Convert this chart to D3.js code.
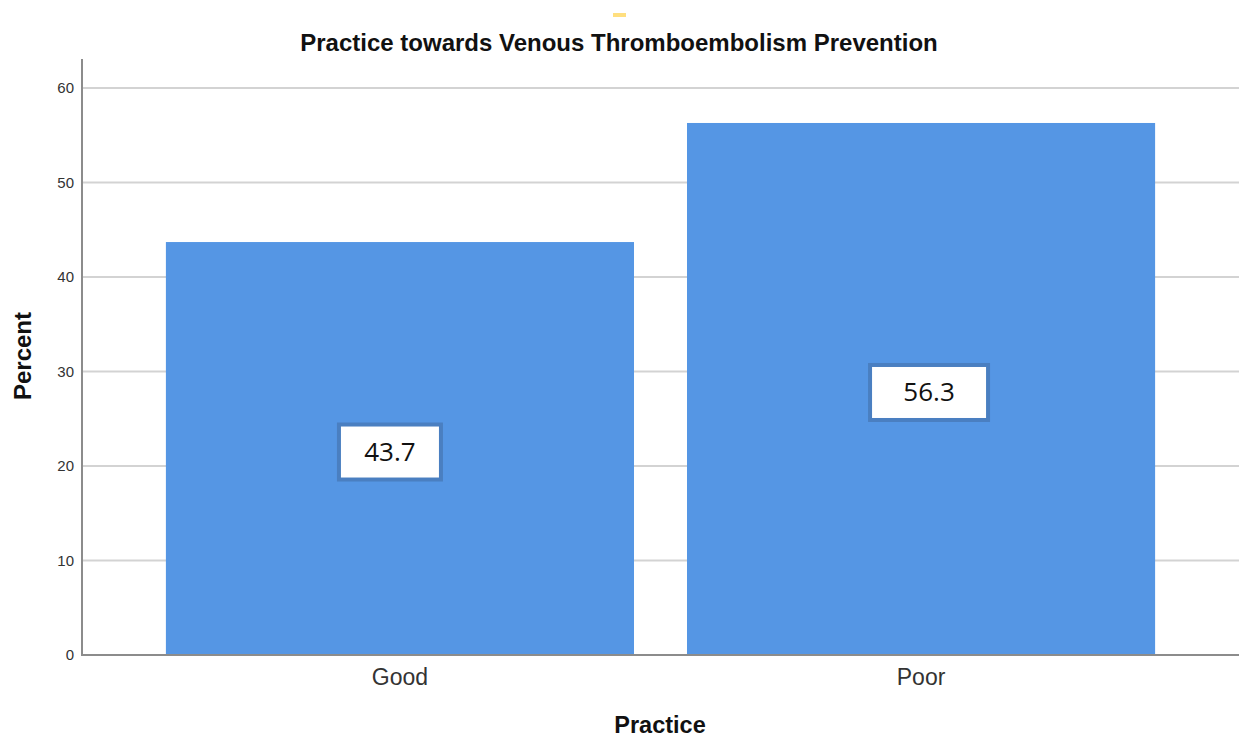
<!DOCTYPE html>
<html>
<head>
<meta charset="utf-8">
<script src="https://cdn.jsdelivr.net/npm/d3@7"></script>
<style>
  html, body { margin: 0; padding: 0; background: #fff; }
  svg { display: block; }
</style>
</head>
<body>
<svg id="chart" width="1239" height="739"></svg>
<script>
// Data
const categories = ["Good", "Poor"];
const percentValues = [43.7, 56.3];
const yTicks = [0, 10, 20, 30, 40, 50, 60];
const chartTitle = "Practice towards Venous Thromboembolism Prevention";
const xTitle = "Practice";
const yTitle = "Percent";

const width = 1239, height = 739;
const margin = { top: 59, right: 0, bottom: 84, left: 82 };

const svg = d3.select("#chart");

const x = d3.scaleBand()
  .domain(categories)
  .range([margin.left, width - margin.right])
  .paddingInner(0.1017)
  .paddingOuter(0.161);

const y = d3.scaleLinear()
  .domain([0, 63.07])
  .range([height - margin.bottom, margin.top]);

// small accent mark above the title
svg.append("rect")
  .attr("x", 613).attr("y", 13).attr("width", 13).attr("height", 4)
  .attr("fill", "#ffdf7f");

// gridlines
svg.append("g")
  .selectAll("line")
  .data(yTicks.filter(d => d > 0))
  .join("line")
  .attr("x1", margin.left).attr("x2", width)
  .attr("y1", d => y(d)).attr("y2", d => y(d))
  .attr("stroke", "#d3d3d3").attr("stroke-width", 2);

// bars
svg.append("g")
  .selectAll("rect")
  .data(categories)
  .join("rect")
  .attr("x", d => x(d))
  .attr("width", x.bandwidth())
  .attr("y", (d, i) => y(percentValues[i]))
  .attr("height", (d, i) => y(0) - y(percentValues[i]))
  .attr("fill", "#5596e4");

// y axis
const yAxis = svg.append("g")
  .attr("transform", `translate(${margin.left},0)`)
  .call(d3.axisLeft(y).tickValues(yTicks).tickSize(0).tickPadding(8));
yAxis.select(".domain").remove();
yAxis.selectAll("text")
  .attr("font-family", "Liberation Sans, Arial, sans-serif")
  .attr("font-size", 15).attr("fill", "#333");
svg.append("line")
  .attr("x1", margin.left).attr("x2", margin.left)
  .attr("y1", margin.top).attr("y2", y(0) + 1)
  .attr("stroke", "#8c8c8c").attr("stroke-width", 2);

// x axis
const xAxis = svg.append("g")
  .attr("transform", `translate(0,${y(0)})`)
  .call(d3.axisBottom(x).tickSize(0).tickPadding(14));
xAxis.select(".domain").remove();
xAxis.selectAll("text")
  .attr("font-family", "Liberation Sans, Arial, sans-serif")
  .attr("font-size", 23).attr("fill", "#333");
svg.append("line")
  .attr("x1", margin.left - 1).attr("x2", width)
  .attr("y1", y(0)).attr("y2", y(0))
  .attr("stroke", "#8c8c8c").attr("stroke-width", 2);

// value labels boxed at mid-height of each bar
const labelW = [102, 118];
const labelG = svg.append("g")
  .selectAll("g")
  .data(categories)
  .join("g")
  .attr("transform", (d, i) => {
    const cx = x(d) + x.bandwidth() / 2 + (i === 0 ? -10 : 8);
    const cy = y(percentValues[i] / 2) + 3;
    return `translate(${cx},${cy})`;
  });
labelG.append("rect")
  .attr("x", (d, i) => -labelW[i] / 2)
  .attr("y", -27)
  .attr("width", (d, i) => labelW[i])
  .attr("height", 55)
  .attr("fill", "#fff")
  .attr("stroke", "#4a7fc1")
  .attr("stroke-width", 4);
labelG.append("text")
  .attr("text-anchor", "middle")
  .attr("dy", "0.36em")
  .attr("font-family", "Open Sans, Liberation Sans, sans-serif")
  .attr("font-size", 26)
  .attr("fill", "#111")
  .text((d, i) => percentValues[i].toFixed(1));

// titles
svg.append("text")
  .attr("x", 619).attr("y", 51)
  .attr("text-anchor", "middle")
  .attr("font-family", "Liberation Sans, Arial, sans-serif")
  .attr("font-weight", "bold").attr("font-size", 24).attr("fill", "#111")
  .text(chartTitle);

svg.append("text")
  .attr("x", 660).attr("y", 733)
  .attr("text-anchor", "middle")
  .attr("font-family", "Liberation Sans, Arial, sans-serif")
  .attr("font-weight", "bold").attr("font-size", 23.5).attr("fill", "#111")
  .text(xTitle);

svg.append("text")
  .attr("transform", "translate(31,356) rotate(-90)")
  .attr("text-anchor", "middle")
  .attr("font-family", "Liberation Sans, Arial, sans-serif")
  .attr("font-weight", "bold").attr("font-size", 24).attr("fill", "#111")
  .text(yTitle);
</script>
</body>
</html>
